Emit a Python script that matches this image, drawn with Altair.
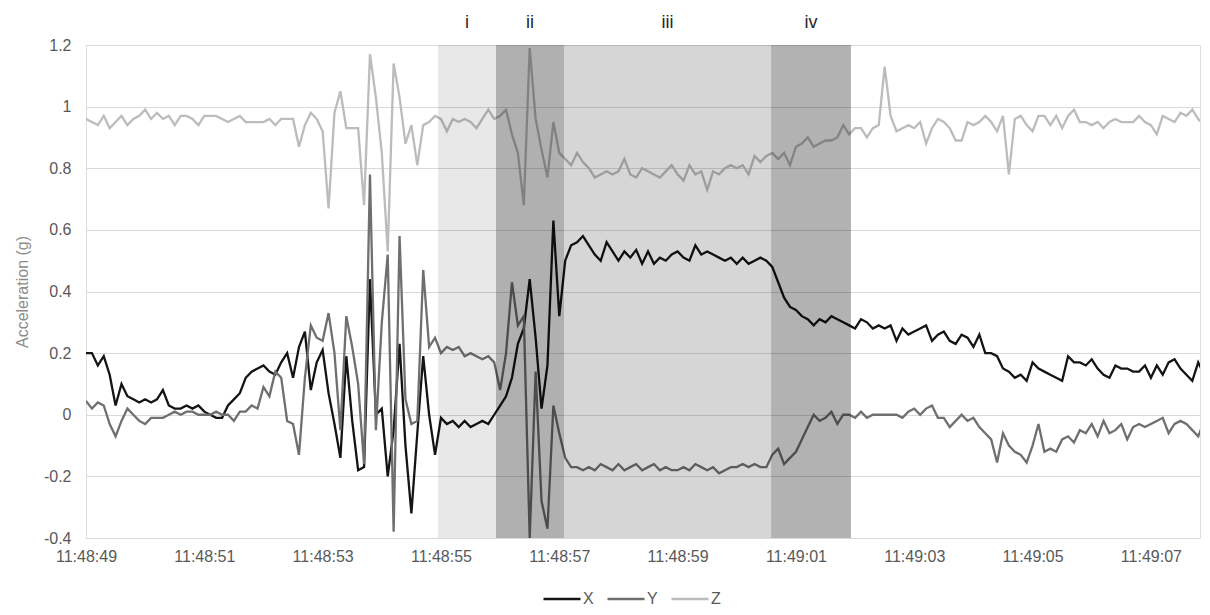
import json
import altair as alt
import pandas as pd

# ---------------- data ----------------
STEP_S = 0.1  # sampling interval (s) of the recorded series, starting 11:48:49

X_VALS = [
    0.20, 0.20, 0.16, 0.19, 0.13, 0.03, 0.10, 0.06, 0.05, 0.04,
    0.05, 0.04, 0.05, 0.08, 0.03, 0.02, 0.02, 0.03, 0.02, 0.03,
    0.01, 0.00, -0.01, -0.01, 0.03, 0.05, 0.07, 0.12, 0.14, 0.15,
    0.16, 0.14, 0.13, 0.17, 0.20, 0.12, 0.22, 0.27, 0.08, 0.17,
    0.21, 0.07, -0.03, -0.14, 0.19, -0.02, -0.18, -0.17, 0.44, 0.00,
    0.02, -0.20, -0.05, 0.23, -0.10, -0.32, -0.06, 0.19, 0.00, -0.13,
    -0.01, -0.03, -0.02, -0.04, -0.02, -0.04, -0.03, -0.02, -0.03, 0.00,
    0.03, 0.06, 0.12, 0.23, 0.28, 0.44, 0.25, 0.02, 0.16, 0.63,
    0.32, 0.50, 0.55, 0.56, 0.58, 0.55, 0.52, 0.50, 0.56, 0.53,
    0.50, 0.53, 0.51, 0.535, 0.49, 0.53, 0.49, 0.51, 0.50, 0.52,
    0.53, 0.51, 0.50, 0.55, 0.52, 0.53, 0.52, 0.51, 0.50, 0.51,
    0.49, 0.51, 0.49, 0.50, 0.51, 0.50, 0.48, 0.43, 0.38, 0.35,
    0.34, 0.32, 0.31, 0.29, 0.31, 0.30, 0.32, 0.31, 0.30, 0.29,
    0.28, 0.31, 0.30, 0.28, 0.29, 0.28, 0.29, 0.24, 0.28, 0.26,
    0.27, 0.28, 0.29, 0.24, 0.26, 0.27, 0.24, 0.23, 0.26, 0.25,
    0.22, 0.26, 0.20, 0.20, 0.19, 0.15, 0.14, 0.12, 0.13, 0.11,
    0.17, 0.15, 0.14, 0.13, 0.12, 0.11, 0.19, 0.17, 0.17, 0.16,
    0.18, 0.15, 0.13, 0.12, 0.16, 0.15, 0.15, 0.14, 0.14, 0.16,
    0.12, 0.16, 0.13, 0.17, 0.18, 0.15, 0.13, 0.11, 0.17, 0.13,
    0.14,
]

Y_VALS = [
    0.045, 0.02, 0.04, 0.03, -0.03, -0.07, -0.02, 0.02, 0.00, -0.02,
    -0.03, -0.01, -0.01, -0.01, 0.00, 0.01, 0.00, 0.01, 0.01, 0.00,
    0.00, 0.00, 0.01, 0.00, 0.00, -0.02, 0.01, 0.01, 0.03, 0.02,
    0.09, 0.06, 0.14, 0.12, -0.02, -0.03, -0.13, 0.12, 0.29, 0.25,
    0.24, 0.33, 0.20, -0.05, 0.32, 0.22, 0.10, -0.16, 0.78, -0.05,
    0.30, 0.52, -0.38, 0.58, 0.05, -0.03, -0.02, 0.47, 0.22, 0.25,
    0.20, 0.22, 0.21, 0.22, 0.19, 0.20, 0.19, 0.18, 0.19, 0.17,
    0.08, 0.20, 0.43, 0.29, 0.32, -0.40, 0.14, -0.28, -0.37, 0.03,
    -0.06, -0.14, -0.17, -0.17, -0.18, -0.17, -0.18, -0.16, -0.17, -0.18,
    -0.16, -0.18, -0.17, -0.16, -0.18, -0.17, -0.16, -0.18, -0.17, -0.18,
    -0.18, -0.17, -0.18, -0.16, -0.17, -0.18, -0.17, -0.19, -0.18, -0.17,
    -0.17, -0.16, -0.17, -0.16, -0.17, -0.17, -0.13, -0.11, -0.16, -0.14,
    -0.12, -0.08, -0.04, 0.00, -0.02, -0.01, 0.01, -0.03, 0.00, 0.00,
    -0.01, 0.01, -0.01, 0.00, 0.00, 0.00, 0.00, 0.00, -0.01, 0.01,
    0.02, 0.00, 0.02, 0.03, -0.01, -0.01, -0.04, -0.02, 0.00, -0.02,
    -0.01, -0.04, -0.06, -0.08, -0.155, -0.06, -0.10, -0.12, -0.13, -0.155,
    -0.10, -0.03, -0.12, -0.11, -0.12, -0.08, -0.07, -0.09, -0.05, -0.06,
    -0.03, -0.07, -0.02, -0.06, -0.05, -0.03, -0.08, -0.04, -0.03, -0.04,
    -0.03, -0.02, -0.01, -0.06, -0.03, -0.02, -0.03, -0.05, -0.07, -0.02,
    -0.04,
]

Z_VALS = [
    0.96, 0.95, 0.94, 0.97, 0.93, 0.95, 0.97, 0.94, 0.96, 0.97,
    0.99, 0.96, 0.98, 0.96, 0.97, 0.94, 0.97, 0.97, 0.96, 0.94,
    0.97, 0.97, 0.97, 0.96, 0.95, 0.96, 0.97, 0.95, 0.95, 0.95,
    0.95, 0.96, 0.94, 0.96, 0.96, 0.96, 0.87, 0.94, 0.98, 0.96,
    0.92, 0.67, 0.98, 1.05, 0.93, 0.93, 0.93, 0.68, 1.17, 1.03,
    0.85, 0.53, 1.14, 1.03, 0.88, 0.94, 0.81, 0.94, 0.95, 0.97,
    0.96, 0.92, 0.96, 0.95, 0.96, 0.95, 0.93, 0.96, 0.99, 0.96,
    0.97, 0.99, 0.91, 0.85, 0.68, 1.19, 0.96, 0.86, 0.77, 0.95,
    0.85, 0.83, 0.81, 0.85, 0.82, 0.80, 0.77, 0.78, 0.79, 0.78,
    0.79, 0.83, 0.78, 0.77, 0.80, 0.79, 0.78, 0.77, 0.79, 0.81,
    0.78, 0.76, 0.81, 0.78, 0.79, 0.73, 0.79, 0.78, 0.80, 0.81,
    0.80, 0.81, 0.78, 0.84, 0.82, 0.84, 0.85, 0.83, 0.85, 0.81,
    0.87, 0.88, 0.90, 0.87, 0.88, 0.89, 0.89, 0.90, 0.94, 0.91,
    0.93, 0.93, 0.90, 0.93, 0.94, 1.13, 0.97, 0.92, 0.93, 0.94,
    0.93, 0.95, 0.88, 0.93, 0.96, 0.95, 0.93, 0.89, 0.89, 0.95,
    0.94, 0.95, 0.97, 0.95, 0.92, 0.97, 0.78, 0.96, 0.97, 0.94,
    0.92, 0.97, 0.97, 0.94, 0.97, 0.93, 0.97, 0.99, 0.95, 0.95,
    0.94, 0.95, 0.93, 0.95, 0.96, 0.95, 0.95, 0.95, 0.97, 0.95,
    0.94, 0.91, 0.97, 0.96, 0.95, 0.98, 0.97, 0.99, 0.96, 0.94,
    0.95,
]

SERIES = ["X", "Y", "Z"]
SERIES_COLORS = ["#141414", "#6f6f6f", "#bcbcbc"]

TICK_SECONDS = [0, 2, 4, 6, 8, 10, 12, 14, 16, 18]
TICK_LABELS = ["11:48:49", "11:48:51", "11:48:53", "11:48:55", "11:48:57",
               "11:48:59", "11:49:01", "11:49:03", "11:49:05", "11:49:07"]
Y_TICKS = [-0.4, -0.2, 0, 0.2, 0.4, 0.6, 0.8, 1, 1.2]

PHASES = ["i", "ii", "iii", "iv"]
PHASE_START = [5.95, 6.93, 8.08, 11.58]
PHASE_END = [6.93, 8.08, 11.58, 12.93]
PHASE_SHADE = [0.09, 0.31, 0.16, 0.30]

# ---------------- tables ----------------
rows = []
for name, vals in zip(SERIES, [X_VALS, Y_VALS, Z_VALS]):
    for i, v in enumerate(vals):
        rows.append({"t": round(i * STEP_S, 2), "series": name, "value": v})
df = pd.DataFrame(rows)

phase_df = pd.DataFrame({"phase": PHASES, "start": PHASE_START,
                         "end": PHASE_END, "shade": PHASE_SHADE})

FONT = "Liberation Sans"
W, H = 1114, 493

x_scale = alt.Scale(domain=[0, 18.83], nice=False, zero=False)
y_scale = alt.Scale(domain=[-0.4, 1.2], nice=False, zero=False)

label_expr_x = json.dumps(TICK_LABELS) + "[round(datum.value / 2)]"

lines = alt.Chart(df).mark_line(strokeWidth=2.3, clip=True).encode(
    x=alt.X("t:Q", scale=x_scale,
            axis=alt.Axis(values=TICK_SECONDS, labelExpr=label_expr_x,
                          grid=False, ticks=False, domain=False,
                          labelFlush=False, labelOverlap=False,
                          labelPadding=10, labelFontSize=16,
                          labelColor="#595959", labelFont=FONT, title=None)),
    y=alt.Y("value:Q", scale=y_scale,
            axis=alt.Axis(values=Y_TICKS, labelExpr="'' + datum.value",
                          grid=True, gridColor="#d9d9d9", gridWidth=1,
                          ticks=False, domain=False, labelPadding=15,
                          labelFontSize=16, labelColor="#595959",
                          labelFont=FONT, title="Acceleration (g)",
                          titleFontSize=16, titleFontWeight="normal",
                          titleColor="#8c8c8c", titleFont=FONT,
                          titlePadding=13)),
    color=alt.Color("series:N",
                    scale=alt.Scale(domain=SERIES, range=SERIES_COLORS),
                    legend=alt.Legend(orient="none", legendX=456, legendY=534,
                                      direction="horizontal", title=None,
                                      symbolType="stroke", symbolSize=1369,
                                      symbolStrokeWidth=2.5,
                                      labelFontSize=16, labelColor="#595959",
                                      labelFont=FONT, labelOffset=1,
                                      columnPadding=8)),
)

shade = alt.Chart(phase_df).mark_rect(color="black").encode(
    x=alt.X("start:Q", scale=x_scale),
    x2="end:Q",
    y=alt.value(0),
    y2=alt.value(H),
    opacity=alt.Opacity("shade:Q", scale=None, legend=None),
)

phase_labels = alt.Chart(phase_df).mark_text(
    fontSize=18, color="#262626", font=FONT, baseline="middle", align="center"
).transform_calculate(
    mid="(datum.start + datum.end) / 2"
).encode(
    x=alt.X("mid:Q", scale=x_scale),
    y=alt.value(-22),
    text="phase:N",
)

chart = alt.layer(lines, shade, phase_labels).properties(
    width=W, height=H,
    autosize=alt.AutoSizeParams(type="none"),
    padding={"left": 78, "top": 37, "right": 2, "bottom": 69},
).configure_view(stroke=None).configure(font=FONT)

chart.save("out.html", embed_options={"renderer": "svg", "actions": False})
